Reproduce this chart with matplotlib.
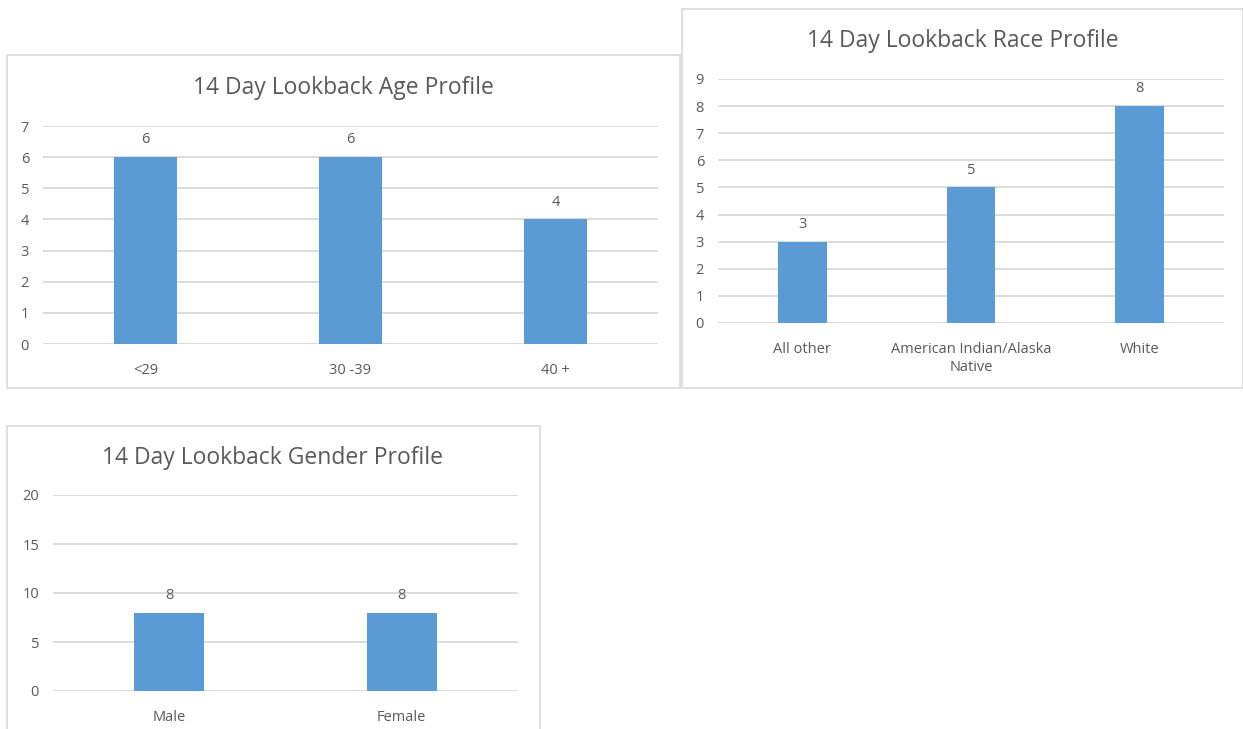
import matplotlib.pyplot as plt
from matplotlib.patches import Rectangle

# datos de los tres graficos
age_groups = ['<29', '30 -39', '40 +']
age_counts = [6, 6, 4]

race_groups = ['All other', 'American Indian/Alaska\nNative', 'White']
race_counts = [3, 5, 8]

gender_groups = ['Male', 'Female']
gender_counts = [8, 8]

W, H = 1243, 729
BAR = '#5B9BD5'
TXT = '#595959'
GRID = '#D9D9D9'

plt.rcParams['font.family'] = ['Open Sans', 'DejaVu Sans']


def caja(fig, x0, y0, x1, y1):
    """ dibuja el borde gris de cada panel (coordenadas en pixeles) """
    r = Rectangle((x0 / W, 1 - y1 / H), (x1 - x0) / W, (y1 - y0) / H,
                  transform=fig.transFigure, fill=False, edgecolor=GRID, linewidth=1.2)
    fig.add_artist(r)


def grafico(fig, px, titulo, cats, vals, ymax, step, title_x, title_y, width=0.31):
    """ px = (izq, arriba, der, abajo) del area de trazado en pixeles """
    x0, y0, x1, y1 = px
    ax = fig.add_axes([x0 / W, 1 - y1 / H, (x1 - x0) / W, (y1 - y0) / H])
    pos = list(range(len(cats)))
    bars = ax.bar(pos, vals, width=width, color=BAR, zorder=3)
    ax.bar_label(bars, padding=7, color=TXT, fontsize=10.5)
    ax.set_xlim(-0.5, len(cats) - 0.5)
    ax.set_ylim(0, ymax)
    ax.set_yticks(range(0, ymax + 1, step))
    ax.set_xticks(pos)
    ax.set_xticklabels(cats)
    ax.yaxis.grid(True, color=GRID, linewidth=1.3, zorder=0)
    for s in ax.spines.values():
        s.set_visible(False)
    ax.tick_params(length=0, colors=TXT, labelsize=10.5)
    ax.tick_params(axis='x', pad=14)
    ax.tick_params(axis='y', pad=10)
    fig.text(title_x / W, 1 - title_y / H, titulo, ha='center', va='center',
             fontsize=16.5, color=TXT)
    return ax


if __name__ == '__main__':
    fig = plt.figure(figsize=(W / 100, H / 100), dpi=100)

    caja(fig, 7, 55, 680, 388)
    caja(fig, 682, 9, 1243, 388)
    caja(fig, 7, 426, 540, 735)

    grafico(fig, (43, 126, 658, 344), '14 Day Lookback Age Profile',
            age_groups, age_counts, 7, 1, 343, 88)
    grafico(fig, (718, 79, 1224, 323), '14 Day Lookback Race Profile',
            race_groups, race_counts, 9, 1, 963, 41, width=0.29)
    grafico(fig, (53, 495, 518, 691), '14 Day Lookback Gender Profile',
            gender_groups, gender_counts, 20, 5, 273, 458, width=0.30)

    fig.savefig('out.png', dpi=100)
